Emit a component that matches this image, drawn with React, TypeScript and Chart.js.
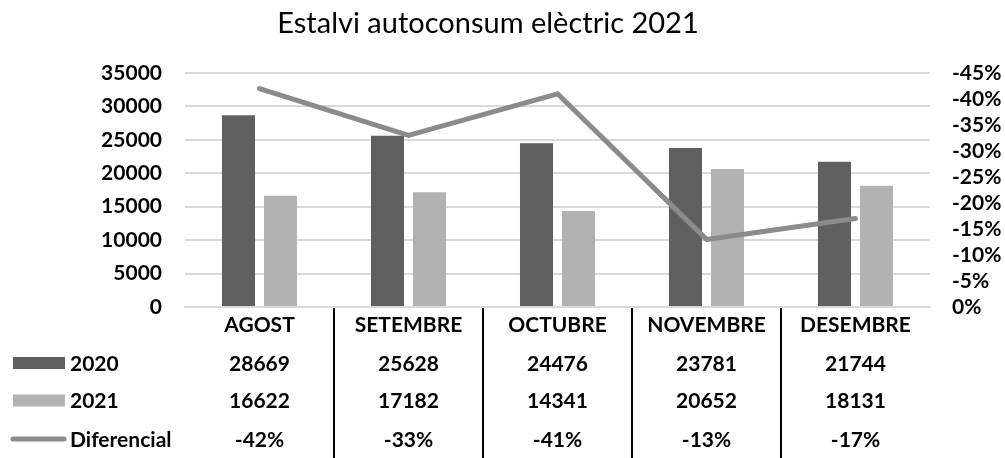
import React, { useEffect, useRef } from 'react';
import { Chart, registerables } from 'chart.js';

Chart.register(...registerables);

const chartTitle = 'Estalvi autoconsum elèctric 2021';
const categories = ['AGOST', 'SETEMBRE', 'OCTUBRE', 'NOVEMBRE', 'DESEMBRE'];
const values2020 = [28669, 25628, 24476, 23781, 21744];
const values2021 = [16622, 17182, 14341, 20652, 18131];
const diferencial = [-0.42, -0.33, -0.41, -0.13, -0.17];
const seriesNames = ['2020', '2021', 'Diferencial'];

const COLOR_2020 = '#5f5f5f';
const COLOR_2021 = '#b2b2b2';
const COLOR_DIFF = '#8b8b8b';
const FONT = 'Lato';

const pct = (v: number) => `${Math.round(v * 100)}%`;

const tablePlugin = {
  id: 'tablePlugin',
  afterDraw(chart: any) {
    const { ctx, chartArea } = chart;
    const x = chart.scales.x;
    ctx.save();
    // title
    ctx.fillStyle = '#000';
    ctx.font = `29px ${FONT}`;
    ctx.textAlign = 'center';
    ctx.textBaseline = 'alphabetic';
    ctx.fillText(chartTitle, 488, 33);

    // table vertical separators
    ctx.strokeStyle = '#000';
    ctx.lineWidth = 2;
    for (let i = 0; i < categories.length - 1; i++) {
      const xp = Math.round((x.getPixelForValue(i) + x.getPixelForValue(i + 1)) / 2);
      ctx.beginPath();
      ctx.moveTo(xp, chartArea.bottom + 1);
      ctx.lineTo(xp, chart.height);
      ctx.stroke();
    }

    // table rows
    const rows = [values2020.map(String), values2021.map(String), diferencial.map(pct)];
    const baselines = [370.5, 408, 446.5];
    ctx.font = `bold 21px ${FONT}`;
    ctx.textAlign = 'center';
    rows.forEach((row, r) => {
      row.forEach((t, i) => ctx.fillText(t, x.getPixelForValue(i), baselines[r]));
    });

    // legend keys
    ctx.textAlign = 'left';
    seriesNames.forEach((name, r) => {
      const cy = baselines[r] - 7.5;
      if (r < 2) {
        ctx.fillStyle = r === 0 ? COLOR_2020 : COLOR_2021;
        ctx.fillRect(13, cy - 6, 52, 12);
      } else {
        ctx.strokeStyle = COLOR_DIFF;
        ctx.lineWidth = 5;
        ctx.lineCap = 'round';
        ctx.beginPath();
        ctx.moveTo(13, cy);
        ctx.lineTo(64, cy);
        ctx.stroke();
      }
      ctx.fillStyle = '#000';
      ctx.fillText(name, 70, baselines[r]);
    });
    ctx.restore();
  },
};

export default function App() {
  const ref = useRef<HTMLCanvasElement>(null);
  useEffect(() => {
    document.body.style.margin = '0';
    const chart = new Chart(ref.current as HTMLCanvasElement, {
      type: 'bar',
      data: {
        labels: categories,
        datasets: [
          {
            type: 'line',
            label: seriesNames[2],
            data: diferencial,
            yAxisID: 'y1',
            borderColor: COLOR_DIFF,
            backgroundColor: COLOR_DIFF,
            borderWidth: 5,
            borderCapStyle: 'round',
            borderJoinStyle: 'round',
            pointRadius: 0,
            order: 0,
          } as any,
          {
            label: seriesNames[0],
            data: values2020,
            backgroundColor: COLOR_2020,
            yAxisID: 'y',
            categoryPercentage: 0.564,
            barPercentage: 0.786,
            order: 1,
          },
          {
            label: seriesNames[1],
            data: values2021,
            backgroundColor: COLOR_2021,
            yAxisID: 'y',
            categoryPercentage: 0.564,
            barPercentage: 0.786,
            order: 1,
          },
        ],
      },
      options: {
        responsive: false,
        animation: false,
        layout: { padding: { top: 73, left: 0, right: 0, bottom: 0 } },
        plugins: { legend: { display: false }, title: { display: false }, tooltip: { enabled: false } },
        scales: {
          x: {
            grid: { display: true, drawOnChartArea: false, drawTicks: false },
            border: { display: true, color: '#d9d9d9', width: 2 },
            ticks: { color: '#000', font: { family: FONT, weight: 'bold', size: 21 }, padding: 6, maxRotation: 0 },
            afterFit: (s: any) => { s.height = 151; },
          },
          y: {
            position: 'left',
            min: 0,
            max: 35000,
            ticks: {
              stepSize: 5000,
              autoSkip: false,
              color: '#000',
              font: { family: FONT, weight: 'bold', size: 21 },
              padding: 23,
              callback: (v: any) => String(v),
            },
            grid: { color: '#d9d9d9', lineWidth: 2, drawTicks: false },
            border: { display: false },
            afterFit: (s: any) => { s.width = 185; },
          },
          y1: {
            position: 'right',
            reverse: true,
            min: -0.45,
            max: 0,
            ticks: {
              stepSize: 0.05,
              autoSkip: false,
              color: '#000',
              font: { family: FONT, weight: 'bold', size: 21 },
              padding: 22,
              callback: (v: any) => pct(Number(v)),
            },
            grid: { drawOnChartArea: false, drawTicks: false },
            border: { display: false },
            afterFit: (s: any) => { s.width = 75; },
          },
        },
      },
      plugins: [tablePlugin],
    });
    return () => chart.destroy();
  }, []);
  return (
    <div style={{ position: 'absolute', left: 0, top: 0, width: 1005, height: 458, background: '#fff' }}>
      <canvas ref={ref} width={1005} height={458} style={{ display: 'block' }} />
    </div>
  );
}
